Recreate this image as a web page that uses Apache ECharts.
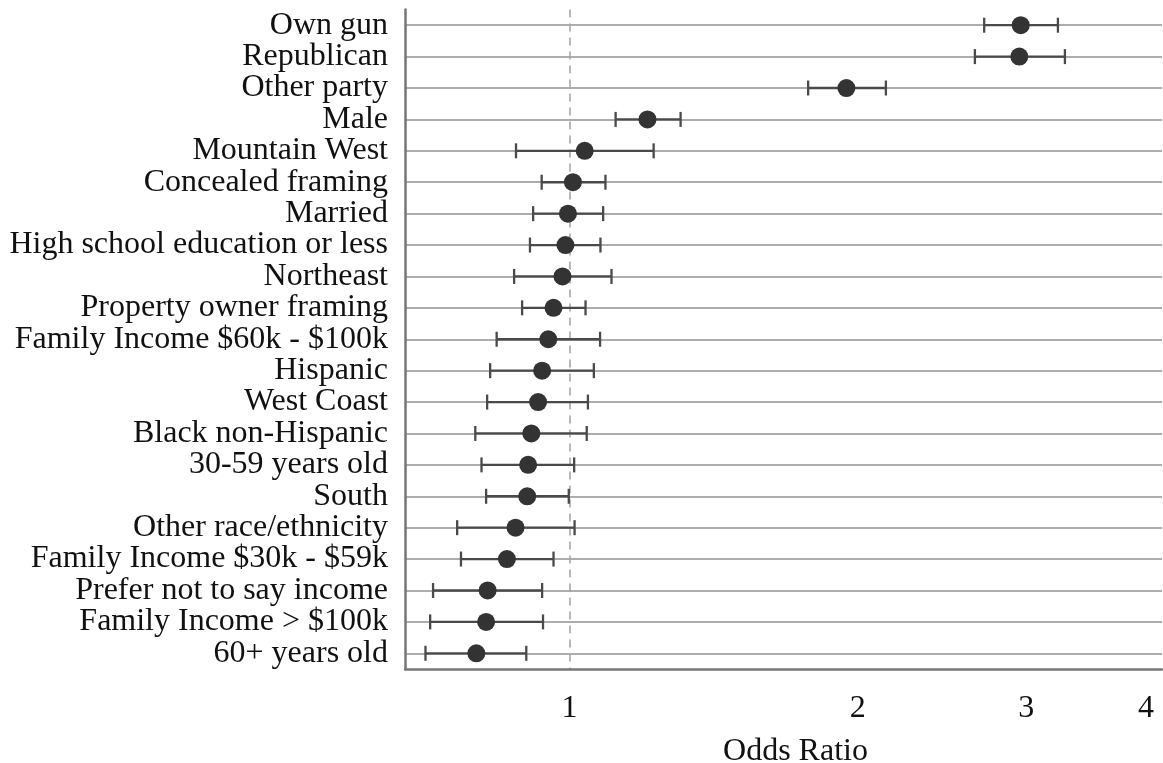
<!DOCTYPE html>
<html>
<head>
<meta charset="utf-8">
<script src="https://cdn.jsdelivr.net/npm/echarts@6/dist/echarts.min.js"></script>
<style>
html,body{margin:0;padding:0;background:#fff;}
#chart{width:1163px;height:763px;}
</style>
</head>
<body>
<div id="chart"></div>
<script>
const categories = [
  'Own gun','Republican','Other party','Male','Mountain West','Concealed framing','Married',
  'High school education or less','Northeast','Property owner framing','Family Income $60k - $100k',
  'Hispanic','West Coast','Black non-Hispanic','30-59 years old','South','Other race/ethnicity',
  'Family Income $30k - $59k','Prefer not to say income','Family Income > $100k','60+ years old'
];
const oddsRatio = [2.96,2.95,1.946,1.206,1.037,1.008,0.996,0.990,0.983,0.962,0.950,0.936,0.927,0.912,0.905,0.903,0.878,0.860,0.821,0.818,0.799];
const ciLow     = [2.711,2.651,1.775,1.117,0.879,0.935,0.916,0.909,0.875,0.892,0.839,0.826,0.820,0.797,0.809,0.818,0.763,0.770,0.720,0.715,0.707];
const ciHigh    = [3.237,3.292,2.140,1.306,1.224,1.090,1.084,1.077,1.106,1.039,1.076,1.060,1.045,1.042,1.011,0.998,1.012,0.962,0.936,0.938,0.901];
const xTickValues = [1,2,3,4];
const xMin = 0.673, xMax = 4.158;

const FONT = 'Liberation Serif';
const chart = echarts.init(document.getElementById('chart'));

const errData = categories.map((c,i)=>[i, ciLow[i], ciHigh[i]]);
const dotData = categories.map((c,i)=>[oddsRatio[i], i]);

chart.setOption({
  animation:false,
  grid:{left:405, right:1, top:9.5, bottom:94, containLabel:false, outerBoundsMode:'none'},
  xAxis:{
    type:'log', min:xMin, max:xMax, logBase:10,
    name:'Odds Ratio', nameLocation:'middle', nameGap:67,
    nameTextStyle:{fontFamily:FONT, fontSize:32, color:'#111', padding:[0,0,0,24]},
    axisLine:{show:true, lineStyle:{color:'#777', width:2.5}},
    axisTick:{show:false},
    splitLine:{show:false},
    minorTick:{show:false}, minorSplitLine:{show:false},
    axisLabel:{customValues:xTickValues, fontFamily:FONT, fontSize:32, color:'#111', margin:24,
      formatter:(v)=>String(Math.round(v))}
  },
  yAxis:{
    type:'category', data:categories, inverse:true,
    axisLine:{show:true, lineStyle:{color:'#777', width:2.5}},
    axisTick:{show:false},
    splitLine:{show:false},
    axisLabel:{interval:0, fontFamily:FONT, fontSize:32, color:'#111', margin:17}
  },
  series:[
    {
      type:'scatter', data:[], z:0, zlevel:0, silent:true,
      markLine:{
        silent:true, symbol:'none', animation:false, z:0,
        label:{show:false},
        lineStyle:{color:'#adadad', width:1.8, type:'solid'},
        data: categories.map(c=>({yAxis:c}))
          .concat([{xAxis:1, lineStyle:{color:'#a8a8a8', width:1.6, type:[8,6]}}])
      }
    },
    {
      type:'custom', z:10, data:errData,
      encode:{y:0, x:[1,2]},
      renderItem:(params, api)=>{
        const yi = api.value(0);
        const a = api.coord([api.value(1), yi]);
        const b = api.coord([api.value(2), yi]);
        const h = 7.5;
        const st = {stroke:'#4a4a4a', lineWidth:2.3};
        return {type:'group', children:[
          {type:'line', shape:{x1:a[0],y1:a[1],x2:b[0],y2:b[1]}, style:st},
          {type:'line', shape:{x1:a[0],y1:a[1]-h,x2:a[0],y2:a[1]+h}, style:st},
          {type:'line', shape:{x1:b[0],y1:b[1]-h,x2:b[0],y2:b[1]+h}, style:st}
        ]};
      }
    },
    {
      type:'scatter', z:11, data:dotData, symbol:'circle', symbolSize:18,
      itemStyle:{color:'#333', opacity:1}
    }
  ]
});
</script>
</body>
</html>
